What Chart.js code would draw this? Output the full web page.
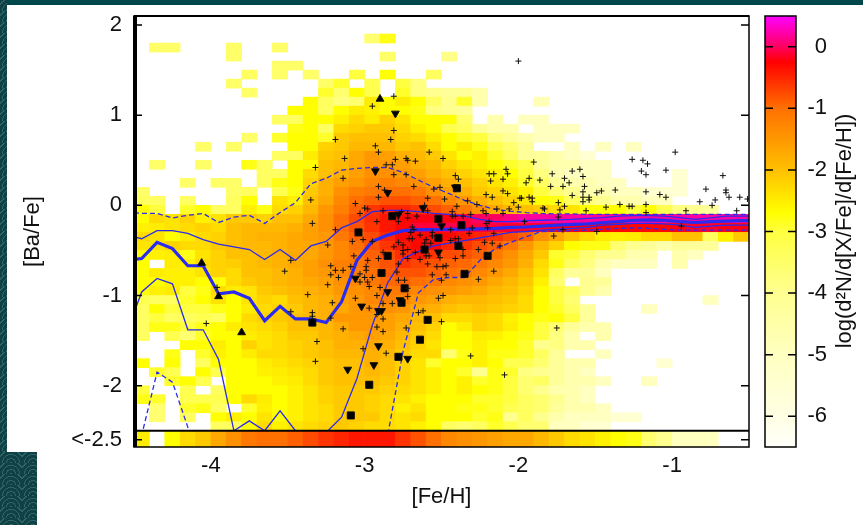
<!DOCTYPE html>
<html>
<head>
<meta charset="utf-8">
<style>
  body { margin: 0; background: #fff; width: 863px; height: 525px; overflow: hidden; position: relative; }
  canvas { position: absolute; top: 0; }
  #chart { left: 0; }
  #colorbar { left: 755px; }
  .slide { position: absolute; background-color: #0f4145;
    background-image: repeating-radial-gradient(circle at 50% 100%, #2f6568 0 1px, transparent 1px 4px);
    background-size: 22px 11px; }
</style>
<script src="https://cdn.jsdelivr.net/npm/chart.js@4"></script>
</head>
<body>
<div class="slide" style="left:0;top:0;width:863px;height:5px;background:#00474b"></div>
<div class="slide" style="left:0;top:0;width:7px;height:452px"></div>
<div class="slide" style="left:0;top:452px;width:37px;height:73px"></div>
<canvas id="chart" width="863" height="525"></canvas>
<canvas id="colorbar" width="108" height="525"></canvas>
<script>
// === axis ticks and bins ===
const xTicks = [-4, -3, -2, -1];
const yTicks = [2, 1, 0, -1, -2, -2.6];
const yTickNames = ['2', '1', '0', '-1', '-2', '<-2.5'];
const barTicks = [0, -1, -2, -3, -4, -5, -6];
const barRange = [-6.5, 0.5];
const binCenters = [-4.45, -4.35, -4.25, -4.15, -4.05, -3.95, -3.85, -3.75, -3.65, -3.55,
  -3.45, -3.35, -3.25, -3.15, -3.05, -2.95, -2.85, -2.75, -2.65, -2.55,
  -2.45, -2.35, -2.25, -2.15, -2.05, -1.95, -1.85, -1.75, -1.65, -1.55,
  -1.45, -1.35, -1.25, -1.15, -1.05, -0.95, -0.85, -0.75, -0.65, -0.55];
const rowEdges = [2.1, 2, 1.9, 1.8, 1.7, 1.6, 1.5, 1.4, 1.3, 1.2, 1.1, 1, 0.9, 0.8, 0.7, 0.6, 0.5, 0.4, 0.3, 0.2, 0.1, 0,
  -0.1, -0.2, -0.3, -0.4, -0.5, -0.6, -0.7, -0.8, -0.9, -1, -1.1, -1.2, -1.3, -1.4, -1.5, -1.6, -1.7, -1.8, -1.9, -2,
  -2.1, -2.2, -2.3, -2.4, -2.5];
const belowEdges = [-2.68, -2.5];

// === log density per cell, top row first, empty bins are _ ===
const _ = null;
const densityRows = [
  [],
  [],
  [_,_,_,_,_,_,_,_,_,_,_,_,_,_,_,-3.6,-2.8],
  [_,-3.5,-3.5,_,_,_,-3.5,_,_,-3.5],
  [_,_,_,_,_,_,-3.5,_,_,_,_,_,_,_,_,_,-3.5,_,_,_,-3.9],
  [_,_,_,_,_,_,_,_,_,-3.5,-3.5],
  [_,_,_,_,_,_,_,-3.4,_,-3.5,_,-3.5,_,_,-3,_,-2.7,_,_,-3.4],
  [_,_,_,_,_,_,-3.5,_,_,_,_,_,-3.5,-2.9,_,-3.2,_,-3,-3.8],
  [_,_,_,_,_,_,_,-3.5,_,_,_,_,-2.9,-3.6,-2.7,-3.2,_,-2.9,-3.8,-4,-4.2,-4.2,-4.6],
  [_,_,_,_,_,_,_,_,_,_,_,-2.7,-3.4,-3.8,-3.6,-2.5,-2.7,-2.5,-2.7,-3.4,-4,-2.9,-4.6,_,_,_,-4.8],
  [_,_,_,_,_,_,_,_,_,_,-2.7,-2.7,-3.4,-2.7,-2.5,-2.55,-2.7,-2.7,-2.8,-3.8,-4,-4.2],
  [_,_,_,_,_,_,_,_,_,-3.4,-3.4,-2.7,-2.7,-2.55,-2.3,-2.5,-2.2,-2.4,-2.7,-2.7,-2.7,-3.6,_,-4.6,_,-5,-5],
  [_,_,_,_,_,_,_,_,_,_,-2.8,-2.7,-3.4,-2.3,-2.2,-2.1,-2.1,-2.3,-2.55,-2.7,-3.2,-3.4,-4.2,-4.6,-4.6,_,-5,-5,-5],
  [_,_,_,_,_,_,_,-3.5,_,-2.9,-2.7,-2.7,-2.9,-2.1,-2,-2,-2,-2.2,-2.3,-2.5,-2.7,-2.9,-3,-3.8,-4.2,-4.6,-5,-5],
  [_,_,_,_,-3.5,_,-3.5,_,_,_,-2.7,-2.7,-2.2,-2.1,-1.9,-1.9,-1.9,-2.1,-2,-2.3,-2.7,-2.5,-2.8,-3.2,-3.6,-4.2,_,_,-5,_,-5,_,-5],
  [_,_,_,_,_,_,_,_,_,-3.4,-3.4,-2.5,-2.1,-2,-1.7,-1.5,-1.6,-1.8,-1.9,-2.1,-2.4,-2.7,-2.55,-2.9,-3.4,-4.2,-4.2,-4.6,-5,-5.5],
  [_,-3.5,_,_,-3.5,_,_,-2.8,-3.4,_,-2.7,-2.7,-2,-1.9,-1.7,-1.5,-1.5,-1.6,-1.8,-1.9,-2.2,-2.4,-2.55,-2.7,-2.9,-3.2,-4.2,-4.6,-4.6,-5,-5],
  [_,_,_,_,_,_,_,_,-3.4,-3.4,-2.7,-2.3,-2,-1.8,-1.6,-1.4,-1.4,-1.5,-1.6,-1.8,-2,-2.2,-2.4,-2.55,-2.7,-3,-3.8,-4.6,-5,-5,-5,_,_,_,_,-5.5],
  [_,_,_,-3.5,_,-3.5,-3.5,_,-3.4,-2.8,-2.7,-2.2,-1.8,-1.6,-1.5,-1.3,-1.2,-1.3,-1.4,-1.6,-1.8,-2,-2.2,-2.4,-2.55,-2.9,-3.4,-4.2,-4.6,-4.6,-5,-5,_,_,_,-5.5],
  [-3.5,_,_,_,_,_,-3.5,-3.4,_,-3.2,-2.8,-2.1,-1.8,-1.4,-1.2,-1.1,-1,-1,-1.1,-1.4,-1.6,-1.8,-2.1,-2.2,-2.4,-2.55,-3,-3.6,-4,-4.6,-4.6,-5,-5,-5.5,-5.5,-5.5],
  [-3.4,-3.4,_,-3.4,_,_,-3.4,-2.7,_,-2.4,-2.55,-2,-1.7,-1.3,-1,-0.9,-0.8,-0.8,-0.9,-1,-1.3,-1.5,-1.8,-2,-2.2,-2.4,-2.7,-2.8,-3.4,-3.8,-4,-4.6,-4.6,-5,-5],
  [-2.7,-3,_,-2.9,-2.7,-3.4,-3.4,-2.55,-2.8,-2.3,-2.2,-1.9,-1.5,-1.2,-0.9,-0.6,-0.5,-0.5,-0.6,-0.75,-0.9,-1.1,-1.4,-1.7,-1.9,-2,-2.1,-2.3,-2.4,-2.7,-2.7,-2.7,-3,-2.7,-3.2,-3.8,-4,-4.2],
  [-2.7,-2.3,-2.4,-2.2,-2.55,-2.4,-2.1,-2.1,-2.2,-2,-2,-1.7,-1.4,-1,-0.75,-0.55,-0.4,-0.3,-0.2,-0.2,-0.2,-0.1,0,0,0.1,0.2,0.2,0.2,0.2,0.2,0.2,0.2,0.2,0.2,0.2,0.2,0.2,0.2,0.2,0.2],
  [-2.55,-2.5,-2.4,-2.3,-2.2,-2.3,-2,-1.9,-1.9,-1.9,-1.8,-1.6,-1.4,-1,-0.8,-0.6,-0.4,-0.3,-0.1,-0.1,-0.05,-0.1,-0.1,-0.1,-0.15,-0.15,-0.15,-0.2,-0.2,-0.2,-0.25,-0.3,-0.3,-0.3,-0.3,-0.2,-0.15,-0.15,-0.2,-0.2],
  [-2.3,-2.4,-2.7,-2.5,-2.3,-2.2,-2,-1.9,-1.8,-1.8,-1.7,-1.6,-1.5,-1.1,-0.9,-0.75,-0.5,-0.3,-0.3,-0.3,-0.3,-0.4,-0.5,-0.6,-0.75,-0.9,-1.4,-1.7,-2,-2.3,-2.5,-2.55,-2.5,-2.3,-2.3,-2,-2,-3.4,-2.55,-2.1],
  [-2.4,-2.4,-2.2,-2.3,-2.3,-2.1,-2,-1.9,-1.9,-1.8,-1.7,-1.7,-1.5,-1.3,-1,-0.8,-0.6,-0.4,-0.3,-0.3,-0.5,-0.6,-0.75,-0.9,-1.1,-1.5,-1.9,-2.2,-2.7,-2.8,-2.8,-3.6,-4,-4.2,-4.6,-4.2,-4.2,-4.2],
  [-2.7,-2.55,-2.5,-2.8,-2.4,-2.2,-2,-2,-1.9,-1.8,-1.7,-1.7,-1.5,-1.3,-1.1,-0.9,-0.75,-0.55,-0.4,-0.6,-0.75,-0.8,-0.9,-1.1,-1.4,-1.7,-2.1,-2.9,-3,-3.6,-4,-4,-4.6,-4.6,_,-4.6,-5],
  [-2.7,_,-2.5,-2.55,-2.3,-2.2,-2.15,-2,-1.9,-1.8,-1.7,-1.6,-1.4,-1.2,-1.1,-0.95,-0.8,-0.6,-0.7,-0.8,-0.9,-0.95,-1.1,-1.3,-1.5,-1.8,-2.3,-2.8,-3.4,-3.8,-4.6,-5,-5,-5,_,-4.6],
  [-2.7,-2.5,-2.55,-2.55,-2.4,-2.2,-2.3,-2,-2,-1.9,-1.8,-1.6,-1.5,-1.3,-1.2,-1,-0.85,-0.8,-0.8,-0.9,-1,-1.1,-1.3,-1.5,-1.7,-2,-2.4,-3.4,-4.2,-4.2,-5],
  [-2.7,-2.7,-2.55,-2.55,-2.7,-2.7,-2.3,-2.1,-2,-1.9,-1.8,-1.7,-1.6,-1.4,-1.3,-1.1,-0.95,-0.9,-1,-1.1,-1.3,-1.4,-1.5,-1.7,-1.9,-2.1,-2.55,-3.6,_,-4,-4.2],
  [-2.7,-2.55,-2.5,-3,-2.8,-2.3,-2.5,-2.4,-2.1,-2,-1.9,-1.8,-1.7,-1.5,-1.4,-1.3,-1.1,-1.1,-1.3,-1.4,-1.5,-1.6,-1.7,-1.9,-2,-2.2,-2.7,-3,-3.4,-4,-4.6],
  [-3.2,-3.4,-3.4,-2.9,-2.7,-2.4,-2.7,-2.4,-2.2,-2.3,-2,-1.9,-1.8,-1.6,-1.5,-1.3,-1.2,-1.3,-1.5,-1.6,-1.8,-1.9,-1.9,-2,-2.1,-2.3,-2.7,-3,-3.6,_,_,_,_,_,_,_,_,-5],
  [-3.4,-2.7,-3,-3,-3,-2.8,-2.7,-2.5,-2.3,-2.2,-2.1,-1.9,-1.8,-1.7,-1.5,-1.4,-1.4,-1.5,-1.7,-1.8,-2,-2.1,-2,-2.1,-2.2,-2.3,-2.7,-2.9,-3.4,-4.2,_,_,_,-5],
  [-3.4,-3,-3.4,-3.4,-3.2,-3.4,-2.7,-2.3,-2.2,-2.1,-2,-1.9,-1.8,-1.5,-1.5,-1.5,-1.6,-1.7,-1.9,-2,-2.3,-2.3,-2.2,-2.3,-2.55,-2.7,-2.8,-2.7,-3,-4.2],
  [-3.4,-2.8,-2.8,-3,-2.8,-2.7,-2.5,-2.4,-2.3,-2.2,-2,-2,-1.9,-1.7,-1.5,-1.5,-1.6,-1.8,-2,-2.2,-2.7,-2.5,-2.2,-2.3,-2.5,-2.7,-3,-3.6,-4.2,-4.6,-4.6],
  [-3.4,_,-3.2,-3.6,-2.9,-2.7,-2.7,-2.5,-2.4,-2.3,-2.1,-2.1,-1.9,-1.8,-1.7,-1.6,-1.7,-1.9,-2.1,-2.3,-2.7,-2.7,-2.5,-2.55,-2.7,-2.8,-3,-3.8,-4.6,_,-4.6],
  [_,_,_,-2.7,-2.7,-2.5,-2.7,-2.2,-2.4,-2.3,-2.2,-2.1,-2,-1.8,-1.8,-1.7,-1.8,-2,-2.2,-2.4,-2.7,-2.7,-2.55,-2.7,-2.7,-2.9,-4,-3.8,-4.6,-4.6],
  [_,_,-2.8,_,-2.9,-2.55,-2.7,-2.5,-2.3,-2.3,-2.2,-2.1,-2,-1.9,-1.9,-1.8,-1.9,-2.1,-2.3,-2.3,-3.6,-2.8,-2.55,-2.8,-2.8,-2.9,-3.4,-4.2,_,_,-5],
  [-2.7,_,-2.7,_,-3.4,-2.7,-2.7,-2.7,-2.5,-2.4,-2.3,-2.2,-2.1,-2,-2,-1.8,-2,-2.2,-2.4,-2.9,-2.7,-2.7,-2.55,-2.7,-3.2,-3.2,-3.6,-4.2,-4.6,-4.6,_,_,_,_,-5.5],
  [_,-2.9,-3.2,_,-2.7,-3.2,-2.7,-2.7,-2.55,-2.5,-2.4,-2.3,-2.1,-2,-2,-1.9,-2,-2.2,-2.4,-2.55,-2.7,-2.9,-4,-2.8,-2.9,-3.8,-4,-4.2,-4.6,-5],
  [_,_,-2.9,-2.7,-3.2,_,-2.7,-2.7,-2.7,-2.55,-2.5,-2.3,-2.1,-2,-2,-2,-2.1,-2.2,-2.4,-2.55,-2.7,-2.55,-2.9,-2.8,-3,-3.6,-3.4,-4.2,-4.6,-4.6,-5,_,_,-5],
  [-3,_,_,-3.2,_,-3.4,-2.7,-2.7,-2.7,-2.7,-2.55,-2.4,-2.2,-2.1,-2.1,-2.1,-2.2,-2.3,-2.4,-2.55,-2.7,-2.55,-2.7,-2.8,-3,-3.6,-4,-4.6,-4.6,-5],
  [-2.8,-2.9,_,-3.2,-3.2,-3.2,-2.7,-2.3,-2.5,-2.7,-2.55,-2.4,-2.2,-2.1,-2.1,-2.2,-2.3,-2.4,-2.55,-2.7,-2.7,-2.7,-2.9,-2.9,-3,-3.4,-3.6,-4,-4.6,-5],
  [_,-3.6,_,-2.9,-2.8,-3.4,_,-2.9,-2.55,-2.7,-2.55,-2.4,-2.3,-2.1,-2.1,-2.2,-2.3,-2.55,-2.4,-2.7,-2.7,-2.8,-2.8,-2.9,-3.2,-3.4,-3.6,-4.2,-4.6,-4.6,-5],
  [_,-3.6,_,-3.4,_,-2.7,-2.55,-2.7,-2.4,-2.7,-2.55,-2.4,-2.3,-2.1,-2.1,-2.1,-2.3,-2.4,-2.3,-2.7,-2.7,-2.7,-2.9,-2.8,-4,-3.4,-4,-4.6,-5,-5,-5,-5.5,-5.5],
  [_,_,_,_,_,-3.4,-3.4,-2.7,-2.3,-2.55,-2.4,-2.3,-2.2,-2.1,-2.2,-2.3,-2.3,-2.4,-2.55,-2.7,-3.4,-3.6,-3.4,-2.9,-3.2,-3.6,-3.6,-5,-5,-5.5,-5.5]
];
const belowRow = [-2.5,_,-2.7,-2.3,-2.1,-1.7,-1.4,-1.1,-1,-1,-0.9,-0.75,-0.6,-0.5,-0.4,-0.4,-0.4,-0.6,-0.8,-1,-1.3,-1.4,-1.5,-1.6,-1.7,-1.7,-1.9,-2.1,-2.3,-2.4,-2.55,-2.7,-2.8,-3.6,-4,-5,-5,-5];

// === percentile lines, first and last entry at the plot edges ===
const lineFe = [-4.5, ...binCenters, -0.5];
const medianBa = [-0.6,-0.59,-0.41,-0.48,-0.67,-0.67,-0.98,-0.96,-1.03,-1.28,-1.12,-1.26,-1.26,-1.3,-1.07,-0.61,-0.4,-0.33,-0.28,-0.27,-0.27,-0.265,-0.265,-0.26,-0.255,-0.245,-0.24,-0.23,-0.22,-0.21,-0.205,-0.19,-0.18,-0.165,-0.16,-0.165,-0.18,-0.19,-0.18,-0.175,-0.17,-0.17];
const upperBa = [-0.35,-0.37,-0.28,-0.28,-0.31,-0.38,-0.43,-0.46,-0.49,-0.6,-0.49,-0.61,-0.45,-0.4,-0.25,-0.18,-0.07,-0.055,-0.055,-0.07,-0.09,-0.1,-0.12,-0.155,-0.18,-0.18,-0.17,-0.165,-0.16,-0.155,-0.145,-0.135,-0.12,-0.115,-0.115,-0.12,-0.135,-0.155,-0.14,-0.12,-0.12,-0.12];
const lowerBa = [-1.19,-0.96,-0.81,-0.87,-1.38,-1.38,-1.71,-2.5,-2.39,-2.5,-2.28,-2.5,-2.64,-2.52,-2.35,-1.92,-1.33,-0.86,-0.59,-0.51,-0.45,-0.42,-0.39,-0.36,-0.33,-0.3,-0.29,-0.275,-0.265,-0.255,-0.245,-0.22,-0.21,-0.2,-0.2,-0.205,-0.22,-0.245,-0.23,-0.22,-0.22,-0.22];
const upper2Ba = [-0.08,-0.09,-0.09,-0.14,-0.11,-0.09,-0.19,-0.13,-0.11,-0.2,-0.08,0.03,0.24,0.3,0.39,0.41,0.42,0.42,0.365,0.28,0.2,0.13,0.055,0,-0.045,-0.065,-0.08,-0.09,-0.095,-0.095,-0.1,-0.1,-0.1,-0.1,-0.1,-0.1,-0.1,-0.1,-0.1,-0.1,-0.1,-0.1];
const lower2Ba = [-3,-2.55,-1.85,-1.96,-2.46,-3,_,_,_,_,_,_,_,_,_,_,-3.5,-2.55,-1.62,-0.97,-0.82,-0.8,-0.8,-0.61,-0.48,-0.41,-0.35,-0.29,-0.285,-0.28,-0.275,-0.265,-0.255,-0.25,-0.255,-0.265,-0.275,-0.275,-0.275,-0.275,-0.275,-0.275];
const cutFe = [-4.5, -0.5];
const cutBa = [-2.5, -2.5];

// === individual stars ===
const plusFe = [-2,-2.81,-2.95,-2.81,-2.83,-2.93,-2.91,-2.58,-3.13,-2.8,-2.73,-2.72,-2.67,-2.49,-2.86,-2.82,-2.16,-2.19,-2.08,-2.07,-1.9,-3.14,-2.81,-2.73,-2.41,-2.39,-2.18,-2.1,-1.93,-1.86,-1.95,-2.91,-2.68,-2.51,-2.55,-2.87,-2.91,-2.21,-2.17,-2.1,-2.07,-1.98,-1.99,-1.93,-1.91,-1.91,-3.06,-2.59,-2.48,-2.33,-2.27,-2.03,-2.4,-2.61,-3,-2.98,-2.88,-3.03,-2.76,-2.72,-2.66,-2.59,-2.43,-2.41,-2.43,-2.36,-2.31,-2.23,-2.21,-2.14,-2.06,-2,-2.1,-1.84,-1.83,-2.92,-2.78,-2.72,-2.19,-2.21,-1.96,
  -2.69,-2.68,-2.7,-2.56,-2.56,-2.44,-3.08,-3.01,-2.95,-2.78,-2.81,-2.75,-2.71,-2.69,-2.64,-2.6,-2.61,-2.57,-2.44,-2.41,-2.39,-2.32,-2.16,-2.22,-2.17,-2.12,-2.26,-2.36,-2.75,-2.72,-2.67,-2.75,-2.72,-2.64,-2.6,-2.58,-2.51,-2.91,-3.07,-2.98,-2.88,-2.41,-2.36,-2.59,-2.53,-2.49,-2.47,-2.78,-3.09,-3.14,-2.99,-2.99,-2.56,-2.47,-2.79,-2.5,-2.78,-2.74,-3.03,-3,-3.03,-2.98,-2.95,-2.97,-2.9,-2.72,-2.92,-3.06,-2.72,-2.52,-2.49,-2.16,-2.26,-2.82,-2.88,-2.97,-2.65,-2.62,-2.92,-2.88,-2.5,-2.92,-3.14,-2.88,-2.73,-3.01,-2.86,-2.31,-2.09,
  -3.19,-3.24,-3.48,-3.52,-3.22,-3.19,-3.22,-3.17,-3.24,-3.37,-3.21,-3.48,-3.34,-3.34,-3.22,-4.03,-3.96,-3.31,-3.32,-3.19,-3.32,-3.35,-3.34,
  -1.26,-1.19,-1.16,-0.98,-1.2,-1.17,-1.04,-1.78,-1.65,-1.6,-1.7,-1.58,-1.67,-1.79,-1.71,-1.57,-1.58,-1.37,-1.46,-1.49,-1.17,-1.08,-1.04,-1.65,-1.58,-1.54,-1.54,-1.58,-1.74,-1.73,-1.7,-1.43,-1.34,-1.28,-1.26,-1.17,-1.17,-1.56,-0.91,-0.58,-0.82,-0.72,-0.74,-0.78,-0.67,-0.65,-0.65,-0.63,-0.56,-0.51,-1.74,
  -0.94,-1.49,-1.71,-1.77,-2.2,-2.3,-1.75];
const plusBa = [1.6,1.21,1.1,0.83,0.73,0.66,0.59,0.59,0.52,0.51,0.52,0.5,0.49,0.52,0.45,0.45,0.35,0.35,0.4,0.35,0.48,0.3,0.34,0.34,0.33,0.29,0.27,0.29,0.3,0.28,0.25,0.21,0.21,0.2,0.18,0.17,0.09,0.12,0.09,0.16,0.13,0.08,0.08,0.09,0.08,0.04,0.02,0.08,0.07,0.05,0.01,0.03,-0.01,0,-0.03,-0.04,-0.06,-0.09,-0.07,-0.09,-0.12,-0.06,-0.07,-0.12,-0.12,-0.12,-0.1,-0.06,-0.09,-0.04,-0.04,-0.02,-0.09,-0.03,-0.04,-0.18,-0.18,-0.14,-0.18,-0.2,-0.18,
  -0.24,-0.27,-0.3,-0.3,-0.34,-0.27,-0.4,-0.38,-0.4,-0.41,-0.46,-0.44,-0.37,-0.37,-0.33,-0.38,-0.42,-0.42,-0.39,-0.37,-0.37,-0.31,-0.31,-0.41,-0.42,-0.45,-0.49,-0.49,-0.5,-0.49,-0.52,-0.54,-0.59,-0.6,-0.56,-0.56,-0.58,-0.59,-0.56,-0.61,-0.52,-0.59,-0.56,-0.65,-0.68,-0.68,-0.67,-0.65,-0.68,-0.72,-0.68,-0.72,-0.77,-0.77,-0.74,-0.83,-0.83,-0.83,-0.76,-0.8,-0.85,-0.85,-0.8,-0.9,-0.91,-0.92,-1,-1.03,-1.01,-1.03,-1,-0.73,-0.82,-1.09,-1.09,-1.14,-1.19,-1.17,-1.21,-1.26,-1.29,-1.35,-1.37,-1.4,-1.36,-1.59,-1.64,-1.67,-1.88,
  -0.27,-0.44,-0.61,-0.73,-0.67,-0.72,-0.77,-0.8,-0.88,-0.99,-1.08,-1.18,-1.19,-1.23,-1.25,-1.31,-0.91,-1.51,-1.73,0.73,0.42,0.06,-0.2,
  0.51,0.5,0.46,0.59,0.38,0.34,0.39,0.35,0.38,0.4,0.3,0.32,0.25,0.21,0.21,0.21,0.15,0.17,0.16,0.14,0.15,0.12,0.09,0.11,0.09,0.09,0.06,0.04,0.03,-0.05,-0.01,-0.02,0.01,-0.01,-0.01,0.01,-0.08,-0.06,-0.06,-0.06,0.04,0.06,0,0.18,0.33,0.17,0.14,0.09,0.09,0.07,-0.13,
  -0.23,-0.29,-0.27,-0.34,-0.25,-0.25,-1.36];
const upTriFe = [-2.9, -4.06, -3.95, -3.8];
const upTriBa = [1.18, -0.64, -1.01, -1.41];
const downTriFe = [-2.8,-2.93,-2.85,-2.41,-2.62,-2.78,-2.5,-2.52,-3.06,-2.85,-2.77,-3.02,-2.91,-2.89,-2.91,-2.72,-2.94,-3.11];
const downTriBa = [1.02,0.38,0.14,0.2,-0.03,-0.1,-0.23,-0.52,-0.81,-0.96,-1.05,-1.12,-1.17,-1.17,-1.56,-1.7,-1.77,-1.82];
const squareFe = [-2.82,-3.04,-2.85,-2.61,-2.52,-2.37,-2.4,-2.52,-2.39,-2.2,-2.89,-2.74,-2.76,-2.35,-2.59,-2.64,-2.78,-2.97,-3.09,-3.34];
const squareBa = [-0.12,-0.3,-0.56,-0.49,-0.15,-0.22,0.19,-0.36,-0.45,-0.56,-0.75,-0.92,-1.08,-0.76,-1.27,-1.49,-1.68,-1.99,-2.33,-1.3];

// === colour map, same stops as the colour bar ===
const paletteStops = [
  [0.5, 255, 0, 255], [0, 255, 0, 96], [-0.25, 255, 0, 0], [-1, 255, 112, 0], [-2, 255, 192, 0],
  [-2.7, 255, 255, 0], [-3, 255, 255, 64], [-4, 255, 255, 144], [-5, 255, 255, 192], [-6, 255, 255, 228], [-6.5, 255, 255, 250]
];

function paletteColor(v) {
  for (let k = 1; k < paletteStops.length; k++) {
    const a = paletteStops[k - 1], b = paletteStops[k];
    if (v >= b[0]) {
      const t = (a[0] - v) / (a[0] - b[0]);
      return `rgb(${a[1]},${Math.round(a[2] + (b[2] - a[2]) * t)},${Math.round(a[3] + (b[3] - a[3]) * t)})`;
    }
  }
  return 'rgb(255,255,250)';
}

const cells = [];
const cellColors = [];
function addRow(row, low, high) {
  row.forEach((v, i) => {
    if (v === null) return;
    cells.push({ x: binCenters[i], y: [low, high] });
    cellColors.push(paletteColor(v));
  });
}
densityRows.forEach((row, j) => addRow(row, rowEdges[j + 1], rowEdges[j]));
addRow(belowRow, belowEdges[0], belowEdges[1]);

const zip = (xs, ys) => xs.map((x, i) => ({ x: x, y: ys[i] }));
const LABEL_FONT = { family: '"Liberation Sans", Arial, sans-serif', size: 22 };
const INK = '#111';

function lineSet(ys, width, dash) {
  return {
    type: 'line', xAxisID: 'x', data: zip(lineFe, ys), order: 2,
    borderColor: '#2a2af0', borderWidth: width, borderDash: dash, pointRadius: 0, tension: 0,
    clip: { left: 0, top: 0, right: 0, bottom: -16 }
  };
}
function starSet(xs, ys, style, radius, rotation) {
  return {
    type: 'scatter', xAxisID: 'x', data: zip(xs, ys), order: 1,
    pointStyle: style, pointRadius: radius, pointRotation: rotation,
    backgroundColor: '#000', borderColor: INK, borderWidth: 1
  };
}

// keep the plot box where it is, no extra room for overhanging labels
function noPadding(s) {
  s.paddingTop = s.paddingBottom = s.paddingLeft = s.paddingRight = 0;
}

// ticks point inward on both sides, the frame has a heavy left edge
function frameAndTicks(chart, tickLen, heavyLeft) {
  const { ctx, chartArea: a, scales } = chart;
  ctx.save();
  ctx.strokeStyle = '#000';
  ctx.lineWidth = 1.5;
  scales.y.ticks.forEach(t => {
    const y = scales.y.getPixelForValue(t.value);
    ctx.beginPath();
    ctx.moveTo(a.left, y); ctx.lineTo(a.left + tickLen, y);
    ctx.moveTo(a.right - tickLen, y); ctx.lineTo(a.right, y);
    ctx.stroke();
  });
  ctx.strokeRect(a.left, a.top, a.right - a.left, a.bottom - a.top);
  if (heavyLeft) {
    ctx.lineWidth = 4;
    ctx.beginPath(); ctx.moveTo(a.left + 1, a.top); ctx.lineTo(a.left + 1, a.bottom); ctx.stroke();
    ctx.lineWidth = 2;
    ctx.beginPath(); ctx.moveTo(a.left, a.top); ctx.lineTo(a.right, a.top); ctx.stroke();
  }
  ctx.restore();
}

new Chart(document.getElementById('chart'), {
  type: 'bar',
  data: {
    datasets: [
      starSet(plusFe, plusBa, 'cross', 3, 0),
      starSet(upTriFe, upTriBa, 'triangle', 4.5, 0),
      starSet(downTriFe, downTriBa, 'triangle', 4.5, 180),
      starSet(squareFe, squareBa, 'rect', 5, 0),
      { type: 'line', xAxisID: 'x', data: zip(cutFe, cutBa), order: 0, borderColor: '#000', borderWidth: 2, pointRadius: 0 },
      lineSet(medianBa, 3.2, []),
      lineSet(upperBa, 1.3, []),
      lineSet(lowerBa, 1.3, []),
      lineSet(upper2Ba, 1.3, [5, 3]),
      lineSet(lower2Ba, 1.3, [5, 3]),
      {
        type: 'bar', xAxisID: 'bins', data: cells, order: 3, backgroundColor: cellColors,
        borderWidth: 0, grouped: false, barPercentage: 1, categoryPercentage: 1
      }
    ]
  },
  options: {
    responsive: false,
    animation: false,
    events: [],
    layout: { autoPadding: false, padding: { top: 16, right: 114, bottom: 0, left: 0 } },
    plugins: { legend: { display: false }, tooltip: { enabled: false } },
    scales: {
      bins: { type: 'category', axis: 'x', labels: binCenters, offset: true, display: false },
      x: {
        type: 'linear', min: -4.5, max: -0.5, offset: false,
        grid: { display: false, offset: false, drawTicks: false },
        border: { display: false },
        afterFit: s => { s.height = 78; noPadding(s); },
        afterBuildTicks: s => { s.ticks = xTicks.map(v => ({ value: v })); },
        ticks: { font: LABEL_FONT, color: INK, padding: 6, autoSkip: false, maxRotation: 0 },
        title: { display: true, text: '[Fe/H]', font: LABEL_FONT, color: INK, padding: { top: 0, bottom: 15 } }
      },
      y: {
        type: 'linear', min: belowEdges[0], max: rowEdges[0], beginAtZero: false,
        grid: { display: false, drawTicks: false },
        border: { display: false },
        afterFit: s => { s.width = 134; noPadding(s); },
        afterBuildTicks: s => { s.ticks = yTicks.map(v => ({ value: v })); },
        ticks: {
          font: LABEL_FONT, color: INK, padding: 12, autoSkip: false,
          callback: v => yTickNames[yTicks.indexOf(v)]
        },
        title: { display: true, text: '[Ba/Fe]', font: LABEL_FONT, color: INK, padding: { top: 20, bottom: 0 } }
      }
    }
  },
  plugins: [{ id: 'frame', afterDatasetsDraw: c => frameAndTicks(c, 8, true) }]
});

// colour bar, one floating bar with the palette as a gradient
new Chart(document.getElementById('colorbar'), {
  type: 'bar',
  data: {
    labels: [''],
    datasets: [{
      data: [barRange],
      borderWidth: 0, barPercentage: 1, categoryPercentage: 1,
      backgroundColor: c => {
        const a = c.chart.chartArea;
        if (!a) return '#fff';
        const g = c.chart.ctx.createLinearGradient(0, a.top, 0, a.bottom);
        paletteStops.forEach(s => g.addColorStop((barRange[1] - s[0]) / (barRange[1] - barRange[0]), `rgb(${s[1]},${s[2]},${s[3]})`));
        return g;
      }
    }]
  },
  options: {
    responsive: false,
    animation: false,
    events: [],
    layout: { autoPadding: false, padding: { top: 16, right: 36, bottom: 78, left: 10 } },
    plugins: { legend: { display: false }, tooltip: { enabled: false } },
    scales: {
      x: { display: false },
      y: {
        position: 'right', min: barRange[0], max: barRange[1], beginAtZero: false,
        grid: { display: false, drawTicks: false },
        border: { display: false },
        afterFit: s => { s.width = 31; noPadding(s); },
        afterBuildTicks: s => { s.ticks = barTicks.map(v => ({ value: v })); },
        ticks: { font: LABEL_FONT, color: INK, padding: 13, crossAlign: 'far', autoSkip: false }
      }
    }
  },
  plugins: [{
    id: 'barFrame',
    afterDatasetsDraw: c => frameAndTicks(c, 8, false),
    afterDraw: c => {
      // a right-hand axis title reads downward in Chart.js, this one reads upward
      const ctx = c.ctx;
      ctx.save();
      ctx.translate(90, 231);
      ctx.rotate(-Math.PI / 2);
      ctx.font = `${LABEL_FONT.size}px ${LABEL_FONT.family}`;
      ctx.fillStyle = INK;
      ctx.textAlign = 'center';
      ctx.textBaseline = 'middle';
      ctx.fillText('log(d²N/d[X/Fe]/d[Fe/H])', 0, 0);
      ctx.restore();
    }
  }]
});
</script>
</body>
</html>
